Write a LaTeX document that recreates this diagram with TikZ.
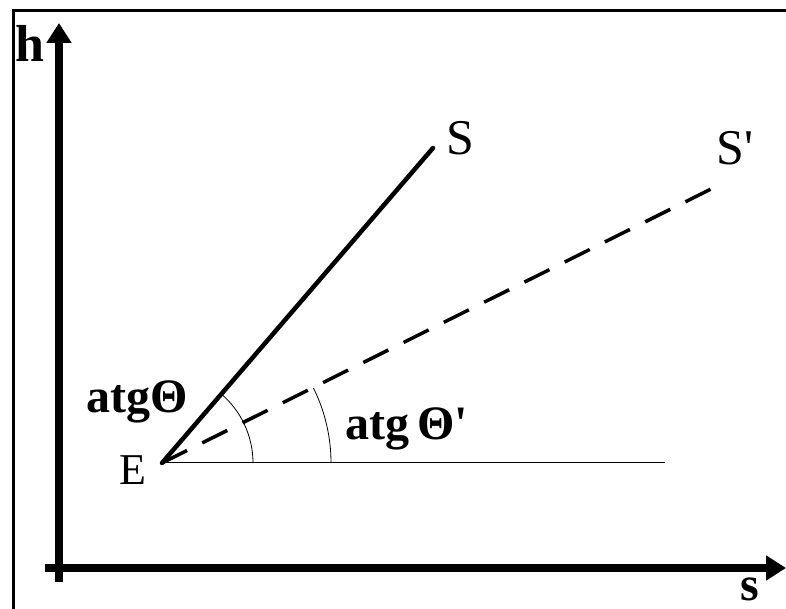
\documentclass[tikz,border=0pt]{standalone}
\usepackage{fontspec}
\newfontfamily\tf{Liberation Serif}
\newfontfamily\tfb{Liberation Serif Bold}
\usetikzlibrary{arrows.meta}
\tikzset{
  axis/.style={line width=8pt, -{Triangle[length=20pt,width=24pt]}},
  lbl/.style={inner sep=0pt, font=\tf},
  thin/.style={line width=1pt},
}
\begin{document}
\begin{tikzpicture}[x=1pt,y=1pt]
\useasboundingbox (0,0) rectangle (786,609);
\fill[white] (0,0) rectangle (786,609);
\draw[line width=3pt] (13,-10) -- (13,598) -- (800,598);
% axes
\coordinate (o1) at (59,27);
\coordinate (htip) at (59,586);
\coordinate (o2) at (45,41);
\coordinate (stip) at (786,41);
\draw[axis] (o1) -- (htip);
\draw[axis] (o2) -- (stip);
\node[lbl, font=\tfb\fontsize{52}{52}\selectfont] (h) at (30,566) {h};
\node[lbl, font=\tfb\fontsize{48}{48}\selectfont] (s) at (750,20) {s};
% points
\coordinate (E) at (162,146);
\coordinate (S) at (433,461);
\coordinate (Sp) at (715,422);
\coordinate (H) at (665,146);
\draw[line width=4.5pt, line cap=round] (E) -- (S);
\draw[line width=3.5pt, dash pattern=on 28pt off 17pt] (E) -- (Sp);
\draw[thin] (E) -- (H);
\draw[line width=0.8pt] ([shift={(0:91)}]E) arc[start angle=0, end angle=49.3, radius=91];
\draw[line width=0.8pt] ([shift={(0:169)}]E) arc[start angle=0, end angle=26.3, radius=169];
% labels
\node[lbl, font=\tf\fontsize{50}{50}\selectfont] (Sl) at (460,471) {S};
\node[lbl, font=\tf\fontsize{50}{50}\selectfont] (Spl) at (735,461) {S'};
\node[lbl, font=\tf\fontsize{44}{44}\selectfont] (El) at (133,139) {E};
\node[lbl, font=\tfb\fontsize{48}{48}\selectfont, anchor=base west] (a1) at (86,196) {atgΘ};
\node[lbl, font=\tfb\fontsize{48}{48}\selectfont, anchor=base west] (a2) at (345,169) {atg\,Θ'};
\end{tikzpicture}
\end{document}
